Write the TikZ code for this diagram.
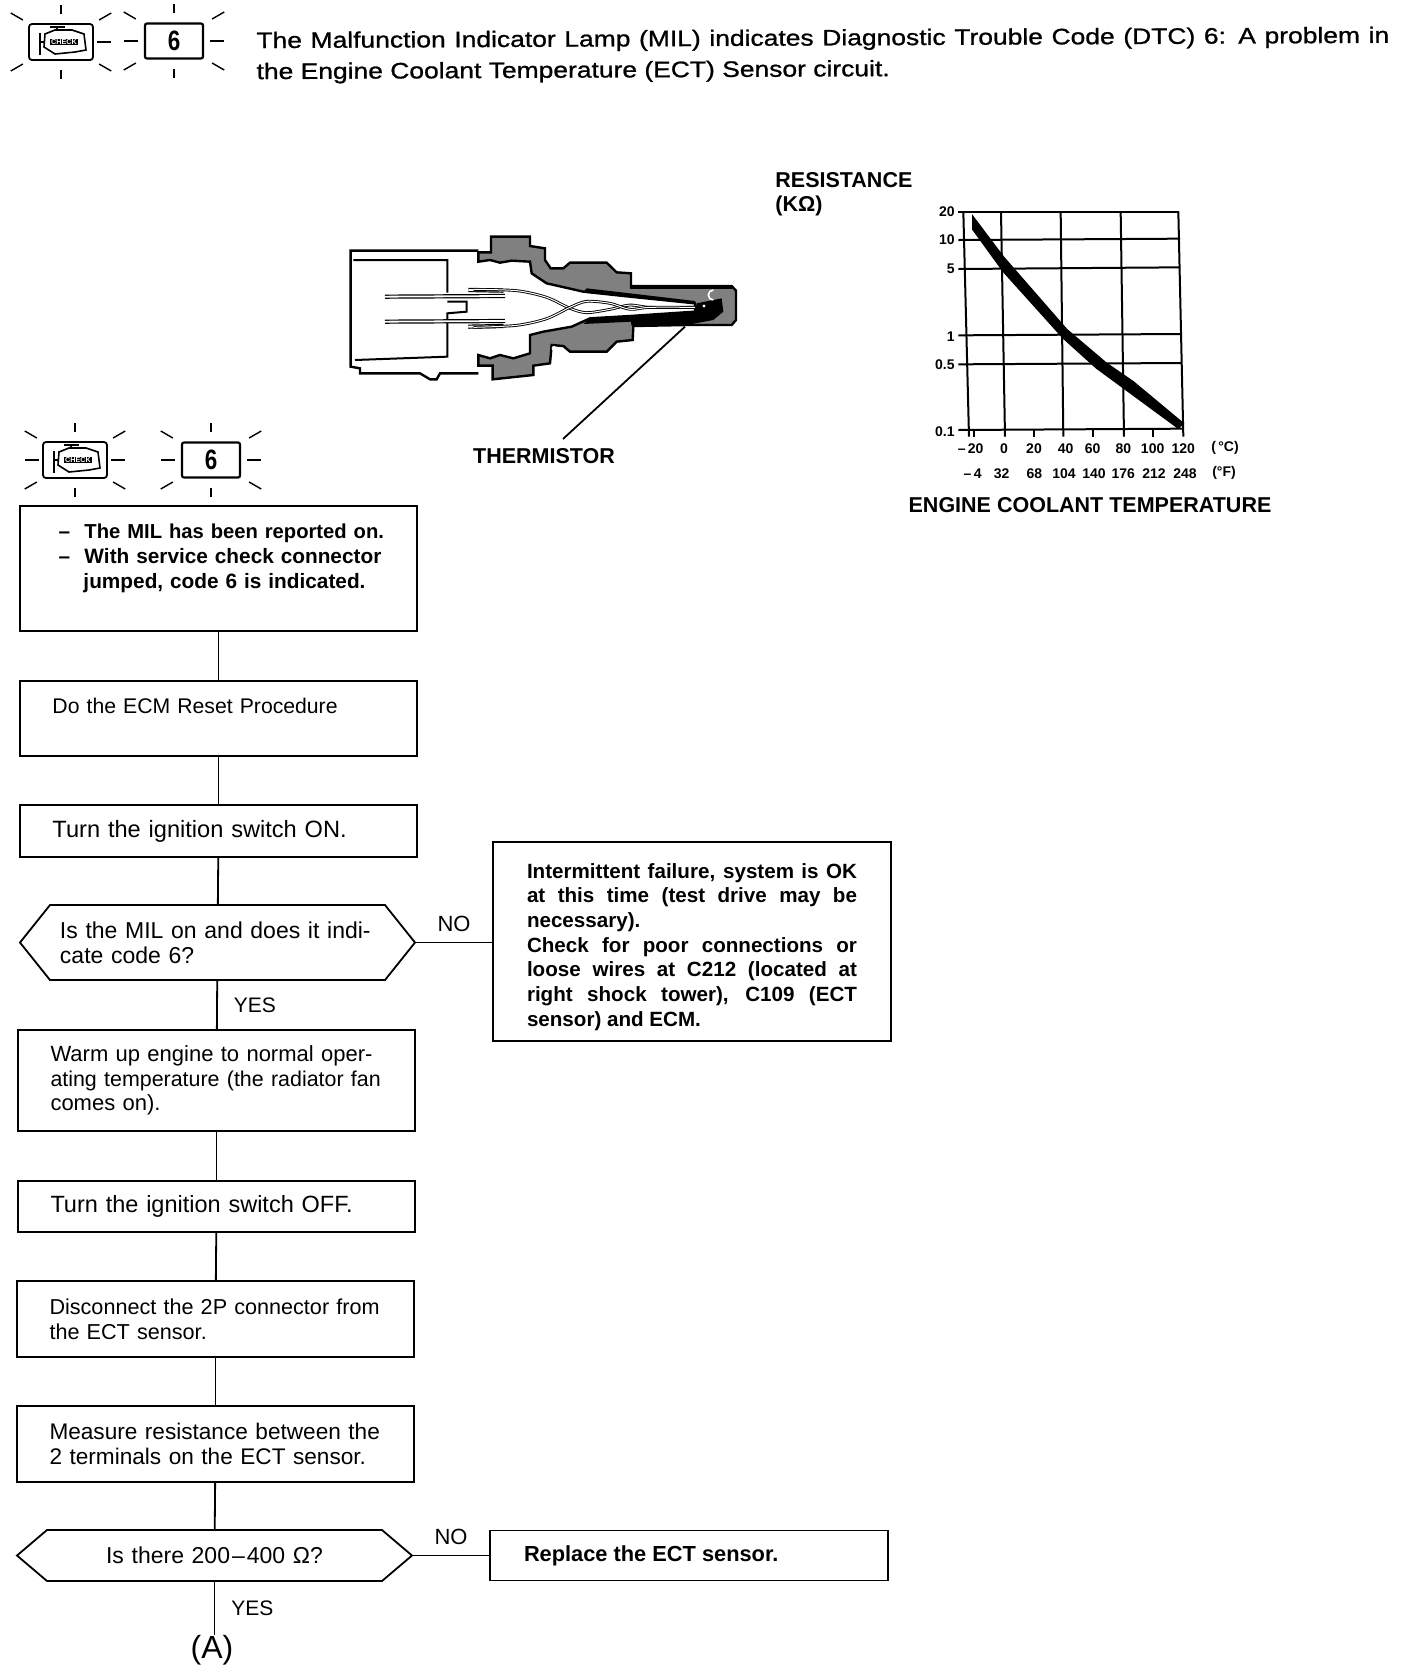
\documentclass[tikz,border=0pt]{standalone}
\usepackage{fontspec}
\setmainfont{Liberation Sans}
\newfontfamily\titlefont[FakeStretch=1.18,FakeBold=1]{Liberation Sans}
\usetikzlibrary{arrows.meta,positioning,calc}
\newcommand{\bodyat}[1]{\fontsize{#1}{12.35}\selectfont}
\tikzset{
  looseline/.style={execute at begin node={\rightskip=-16pt plus 1fil\relax}},
  stepbox/.style={draw,line width=0.9pt,outer sep=0pt,minimum width=198.5pt,text width=166pt,inner xsep=0pt,inner ysep=0pt,align=left,looseline,font=\bodyat{11}},
  askbox/.style={outer sep=0pt,minimum width=197.5pt,inner xsep=0pt,inner ysep=0pt,text width=157.5pt,font=\bodyat{11.5}},
  notebox/.style={draw,line width=0.9pt,outer sep=0pt,minimum width=199pt,text width=165pt,inner xsep=0pt,inner ysep=0pt,align=justify,font=\bodyat{10.3}\bfseries},
  flowline/.style={line width=0.9pt},
  rayline/.style={line width=0.7pt},
  gridline/.style={line width=1pt},
  pinline/.style={line width=0.6pt,double=white,double distance=0.9pt},
  wireline/.style={line width=0.45pt,double=white,double distance=0.5pt},
  ticklabel/.style={font=\fontsize{7}{8}\selectfont\bfseries,inner sep=0pt},
  heading/.style={font=\fontsize{10.75}{12.25}\selectfont\bfseries,inner sep=0pt,align=left},
  milicon/.pic={
    \node[draw,line width=0.9pt,rounded corners=1.5pt,minimum width=32pt,minimum height=18pt,inner sep=0pt] (-frame) at (0,0) {};
    \draw[line width=0.8pt] (-16,-8) -- (-6,-12) -- (11,-12) -- (23,-8) -- (25,8) -- (14,10) -- (-6,12) -- (-17,5) -- cycle;
    \draw[line width=0.8pt] (-11,-15) -- (4,-15) (-4,-15) -- (-4,-12) (-21,-9) -- (-21,13) (-17,0) -- (-21,0);
    \node[inner sep=0.4pt,fill=black,text=white,font=\fontsize{3.6}{4}\selectfont\bfseries] (-check) at (3,0) {CHECK};
  },
  sixicon/.pic={
    \node[draw,line width=1.1pt,rounded corners=1pt,minimum width=29pt,minimum height=17.5pt,inner sep=0pt,font=\fontsize{14}{14}\selectfont\bfseries] (-frame) at (0,0) {\scalebox{.8}[1]{6}};
  }
}
% rays round a lamp, the side ones are passed as a list
\newcommand{\flashrays}[2]{
  \foreach \ang in {30,150,210,330} \draw[rayline] (#1)+(\ang:44) -- +(\ang:58);
  \foreach \ang in {90,270} \draw[rayline] (#1)+(\ang:28) -- +(\ang:37);
  \foreach \ang in {#2} \draw[rayline] (#1)+(\ang:36) -- +(\ang:50);
}
% six sided frame round a question node
\newcommand{\hexframe}[1]{
  \draw[flowline] (#1.west) -- ([xshift=15pt]#1.north west) -- ([xshift=-15pt]#1.north east) -- (#1.east) -- ([xshift=-15pt]#1.south east) -- ([xshift=15pt]#1.south west) -- cycle;
}
\begin{document}
\begin{tikzpicture}[x=0.5pt,y=-0.5pt]
\useasboundingbox (0,0) rectangle (1408,1672);
% lamps at the top
\pic (miltop) at (61,42) {milicon};
\pic (sixtop) at (174,41) {sixicon};
\flashrays{61,42}{0}
\flashrays{174,41}{0,180}
\node[anchor=north west,rotate=0.27,inner sep=0pt,text width=566.5pt,align=justify,font=\titlefont\fontsize{11.2}{15.5}\selectfont] (title) at (256,31.5)
  {The Malfunction Indicator Lamp (MIL) indicates Diagnostic Trouble Code (DTC) 6: A problem in\linebreak the Engine Coolant Temperature (ECT) Sensor circuit.};
% sensor cut-away
\begin{scope}[shift={(330,220)},scale=1/3]
\draw[line width=1.2pt,fill=white] (445,92) -- (62,92) -- (62,440) -- (90,445) -- (90,460) -- (270,460) -- (300,478) -- (320,478) -- (330,460) -- (445,460);
\draw[line width=1pt] (70,120) -- (352,120) -- (352,218) (352,245) -- (410,245) -- (410,275) -- (352,280) -- (352,410) -- (75,420);
\draw[line width=1.2pt,fill=black!50] (445,97) -- (483,97) -- (483,50) -- (600,50) -- (600,78) -- (645,85) -- (645,120) -- (662,145) -- (700,145) -- (720,128) -- (830,128) -- (860,157) -- (903,160) -- (903,198) -- (1205,198) -- (1218,212) -- (1218,300) -- (1205,315) -- (1070,315) -- (910,318) -- (908,360) -- (860,365) -- (830,395) -- (720,395) -- (700,378) -- (665,375) -- (660,430) -- (610,437) -- (610,465) -- (488,478) -- (488,437) -- (445,437) -- (445,405) -- (480,415) -- (510,405) -- (550,415) -- (600,400) -- (600,345) -- (640,335) -- (725,320) -- (780,295) -- (900,288) -- (1095,275) -- (1095,250) -- (900,230) -- (760,215) -- (650,190) -- (605,160) -- (600,125) -- (545,122) -- (510,128) -- (480,120) -- (445,125) -- cycle;
\fill (900,288) -- (1095,275) -- (1100,250) -- (1175,235) -- (1180,275) -- (1150,300) -- (1070,315) -- (905,318) -- cycle;
\fill (780,295) -- (900,288) -- (905,305) -- (760,312) -- cycle;
\fill (900,198) rectangle (1205,208);
\fill (760,215) -- (900,230) -- (1095,250) -- (1095,243) -- (900,220) -- (770,205) -- cycle;
\fill[white] (672,132) circle (7) (672,385) circle (7) (1122,258) circle (5);
\draw[white,line width=0.8pt] (1150,240) arc (-90:90:-15);
\draw[pinline] (165,230) -- (525,228);
\draw[pinline] (165,305) -- (525,303);
\draw[pinline] (415,210) -- (520,212);
\draw[pinline] (415,320) -- (520,318);
\draw[wireline] plot[smooth] coordinates {(430,208) (560,212) (650,232) (720,265) (770,278) (840,268) (900,255) (960,262) (1095,262)};
\draw[wireline] plot[smooth] coordinates {(430,322) (560,316) (650,296) (720,262) (770,244) (840,250) (900,268) (960,262) (1095,262)};
\coordinate (thermtip) at (1065,320);
\end{scope}
\node[heading] (thermistor) at (544,456) {THERMISTOR};
\draw[line width=0.9pt] ([xshift=9.5pt,yshift=4.5pt]thermistor.north) -- (thermtip);
% resistance chart
\node[heading,anchor=north west] (resistance) at (775,172) {RESISTANCE\\(KΩ)};
\begin{scope}[shift={(900,190)},scale=1/3]
\foreach \xa/\xb in {190/207,303/315,482/490,662/672,835/850}
  \draw[gridline] (\xa,65) -- (\xb,740);
\foreach \xa in {222,402,580,758}
  \draw[gridline] (\xa,720) -- (\xa,742);
\foreach \xa/\xb/\ya/\yb in {175/838/65/65,175/840/150/146,175/840/237/232,175/845/436/432,175/845/523/519,175/850/720/716}
  \draw[gridline] (\xa,\ya) -- (\xb,\yb);
\draw[fill,line width=0.6pt] (218,78) -- (310,200) -- (500,418) -- (620,520) -- (700,575) -- (850,700) -- (835,715) -- (665,590) -- (590,535) -- (490,445) -- (310,245) -- (218,118) -- cycle;
\foreach \lbl/\ya in {20/65,10/150,5/237,1/440,0.5/525,0.1/725}
  \node[ticklabel,anchor=east] at (165,\ya) {\lbl};
\foreach \lbl/\xa in {--\,20/212,0/312,20/402,40/497,60/578,80/670,100/758,120/850,(\,\textdegree C)/975}
  \node[ticklabel] at (\xa,775) {\lbl};
\foreach \lbl/\xa in {--\,4/218,32/305,68/403,104/492,140/582,176/670,212/762,248/855,(\textdegree F)/972}
  \node[ticklabel] at (\xa,850) {\lbl};
\end{scope}
\node[heading] (coolant) at (1090,505) {ENGINE COOLANT TEMPERATURE};
% lamps above the flow
\pic (milflow) at (75,460) {milicon};
\pic (sixflow) at (211,460) {sixicon};
\flashrays{75,460}{0,180}
\flashrays{211,460}{0,180}
% flow
\node[stepbox,anchor=north west,minimum height=62.5pt,font=\bodyat{10.4}\bfseries] (reported) at (20,506)
  {\hspace*{3pt}\makebox[13pt][l]{--}\bodyat{10.1}The MIL has been reported on.\\\bodyat{10.4}\hspace*{3pt}\makebox[13pt][l]{--}With service check connector\\\hspace*{15.5pt}jumped, code 6 is indicated.\\~};
\node[stepbox,below=25pt of reported,minimum height=37.5pt,font=\bodyat{10.6}] (reset) {Do the ECM Reset Procedure\\~};
\node[stepbox,below=24.5pt of reset,minimum height=26pt,font=\bodyat{11.8}] (ignon) {Turn the ignition switch ON.};
\node[askbox,below=24pt of ignon,xshift=-0.5pt,minimum height=37.5pt,align=left] (milon) {Is the MIL on and does it indi-\\cate code 6?};
\hexframe{milon}
\node[stepbox,below=25pt of milon,xshift=-0.5pt,minimum height=50.5pt] (warmup) {Warm up engine to normal oper-\\\bodyat{10.7}ating temperature (the radiator fan\\\bodyat{11}comes on).};
\node[stepbox,below=25pt of warmup,minimum height=25.5pt,font=\bodyat{11.75}] (ignoff) {Turn the ignition switch OFF.};
\node[stepbox,below=24.5pt of ignoff,xshift=-0.5pt,minimum height=38pt,font=\bodyat{10.8}] (unplug) {Disconnect the 2P connector from\\the ECT sensor.};
\node[stepbox,below=24.5pt of unplug,minimum height=38pt,font=\bodyat{11.3}] (measure) {Measure resistance between the\\2 terminals on the ECT sensor.};
\node[askbox,below=24pt of measure,xshift=-0.5pt,minimum height=25.5pt,align=center] (ohms) {Is there 200\hspace{1pt}--\hspace{1pt}400 Ω?};
\hexframe{ohms}
\node[notebox,right=39pt of milon,yshift=0.5pt,minimum height=99.5pt] (intermit)
  {\rule{0pt}{12.8pt}Intermittent failure, system is OK\linebreak at this time (test drive may be\linebreak necessary).\\Check for poor connections or\linebreak loose wires at C212 (located at\linebreak right shock tower), C109 (ECT\linebreak sensor) and ECM.};
\node[notebox,right=39pt of ohms,minimum height=25pt,font=\bodyat{10.9}\bfseries] (replace) {Replace the ECT sensor.};
\node[inner sep=0pt,font=\fontsize{16}{17}\selectfont] (enda) at (212,1650) {(A)};
\draw[flowline] (reported) -- (reset);
\draw[flowline] (reset) -- (ignon);
\draw[flowline] (ignon) -- (milon);
\draw[flowline] (milon) -- node[right=8pt,inner sep=0pt,font=\bodyat{10.5}] {YES} (warmup);
\draw[flowline] (milon.east) -- node[above=5pt,font=\bodyat{11},inner sep=0pt] {NO} (milon.east -| intermit.west);
\draw[flowline] (warmup) -- (ignoff);
\draw[flowline] (ignoff) -- (unplug);
\draw[flowline] (unplug) -- (measure);
\draw[flowline] (measure) -- (ohms);
\draw[flowline] (ohms.east) -- node[above=5pt,font=\bodyat{11},inner sep=0pt] {NO} (ohms.east -| replace.west);
\draw[flowline] (ohms) -- node[right=8pt,inner sep=0pt,font=\bodyat{10.5}] {YES} (ohms.south |- enda.north);
\end{tikzpicture}
\end{document}
